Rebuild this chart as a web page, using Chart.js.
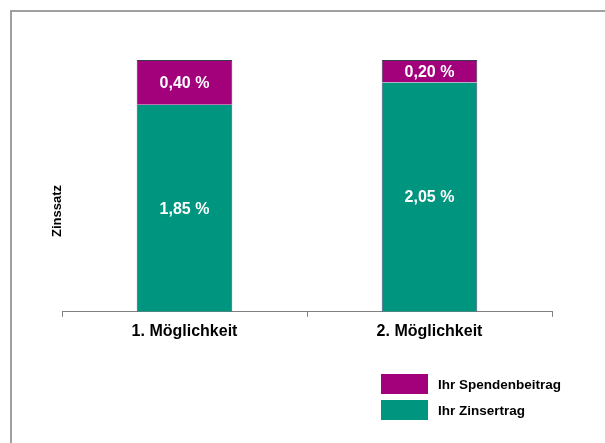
<!DOCTYPE html>
<html>
<head>
<meta charset="utf-8">
<script src="https://cdn.jsdelivr.net/npm/chart.js@4"></script>
<style>
  body { margin: 0; background: #fff; }
  #wrap { position: relative; width: 605px; height: 443px; overflow: hidden; }
  #frame { position: absolute; left: 10px; top: 10px; width: 700px; height: 500px;
           border-top: 2px solid #a0a0a0; border-left: 2px solid #a0a0a0; }
  canvas { position: absolute; left: 0; top: 0; }
</style>
</head>
<body>
<div id="wrap">
  <div id="frame"></div>
  <canvas id="chart" width="605" height="443"></canvas>
</div>
<script>
const categories = ['1. Möglichkeit', '2. Möglichkeit'];
const zinsertrag = [1.85, 2.05];
const spendenbeitrag = [0.40, 0.20];
const seriesNames = ['Ihr Zinsertrag', 'Ihr Spendenbeitrag'];
const axisTitle = 'Zinssatz';

const teal = '#00957f';
const purple = '#a3007c';
const font = '"Liberation Sans", Arial, sans-serif';

const fmt = v => v.toFixed(2).replace('.', ',') + ' %';

// white value labels inside each segment
const valueLabels = {
  id: 'valueLabels',
  afterDatasetsDraw(chart) {
    const ctx = chart.ctx;
    ctx.save();
    ctx.fillStyle = '#fff';
    ctx.font = 'bold 16px ' + font;
    ctx.textAlign = 'center';
    ctx.textBaseline = 'middle';
    chart.data.datasets.forEach((ds, i) => {
      chart.getDatasetMeta(i).data.forEach((bar, j) => {
        ctx.fillText(fmt(ds.data[j]), bar.x, (bar.y + bar.base) / 2 + 1);
      });
    });
    ctx.restore();
  }
};

// rotated y title and legend box at bottom right
const extras = {
  id: 'extras',
  afterDraw(chart) {
    const ctx = chart.ctx;
    ctx.save();
    ctx.fillStyle = '#000';
    ctx.font = 'bold 13px ' + font;
    ctx.textAlign = 'center';
    ctx.textBaseline = 'middle';
    ctx.translate(57, 211);
    ctx.rotate(-Math.PI / 2);
    ctx.fillText(axisTitle, 0, 0);
    ctx.restore();

    ctx.save();
    const items = chart.data.datasets.slice().reverse();
    items.forEach((ds, k) => {
      const y = 374 + k * 26;
      ctx.fillStyle = ds.backgroundColor;
      ctx.fillRect(381, y, 47, 20);
      ctx.fillStyle = '#000';
      ctx.font = 'bold 13.5px ' + font;
      ctx.textBaseline = 'middle';
      ctx.fillText(ds.label, 438, y + 11);
    });
    ctx.restore();
  }
};

new Chart(document.getElementById('chart'), {
  type: 'bar',
  data: {
    labels: categories,
    datasets: [
      { label: seriesNames[0], data: zinsertrag, backgroundColor: teal,
        borderColor: '#4a4a7a', borderWidth: { left: 1, right: 1, top: 0, bottom: 0 } },
      { label: seriesNames[1], data: spendenbeitrag, backgroundColor: purple,
        borderColor: '#3a3a4a', borderWidth: { left: 1, right: 1, top: 1, bottom: 0 } }
    ]
  },
  options: {
    responsive: false,
    animation: false,
    categoryPercentage: 1,
    barPercentage: 0.39,
    layout: { padding: { left: 62, right: 53, top: 60, bottom: 97 } },
    plugins: { legend: { display: false }, tooltip: { enabled: false } },
    scales: {
      x: {
        stacked: true,
        border: { color: '#808080', width: 1 },
        grid: { offset: true, drawOnChartArea: false, tickLength: 5, color: '#808080' },
        ticks: { color: '#000', padding: 5, font: { family: font, size: 16, weight: 'bold' } }
      },
      y: { stacked: true, display: false, min: 0, max: 2.25 }
    }
  },
  plugins: [valueLabels, extras]
});
</script>
</body>
</html>
